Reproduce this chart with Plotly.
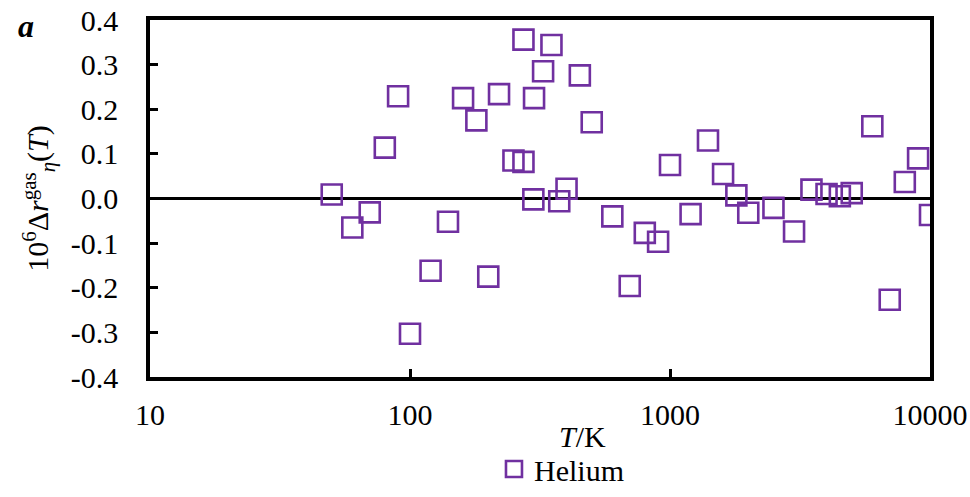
import plotly.graph_objects as go

temperature_K = [50, 60, 70, 80, 90, 100, 120, 140, 160, 180, 200, 220, 250,
                 273.15, 273.15, 298.15, 300, 325, 350, 375, 400, 450, 500, 600,
                 700, 800, 900, 1000, 1200, 1400, 1600, 1800, 2000, 2500, 3000,
                 3500, 4000, 4500, 5000, 6000, 7000, 8000, 9000, 10000]
delta_r = [0.009, -0.065, -0.031, 0.114, 0.229, -0.303, -0.162, -0.052, 0.225,
           0.175, -0.175, 0.234, 0.085, 0.082, 0.356, -0.002, 0.225, 0.285,
           0.344, -0.006, 0.022, 0.276, 0.171, -0.040, -0.196, -0.077, -0.097,
           0.075, -0.035, 0.130, 0.055, 0.007, -0.032, -0.021, -0.074, 0.020,
           0.010, 0.005, 0.012, 0.162, -0.227, 0.037, 0.090, -0.037]

y_ticks = [-0.4, -0.3, -0.2, -0.1, 0.0, 0.1, 0.2, 0.3, 0.4]
y_tick_labels = ["-0.4", "-0.3", "-0.2", "-0.1", "0.0", "0.1", "0.2", "0.3", "0.4"]
x_ticks = [10, 100, 1000, 10000]
x_tick_labels = ["10", "100", "1000", "10000"]
series_name = "Helium"

FONT = "Liberation Serif"
PURPLE = "#7030A0"
f30 = dict(family=FONT, size=30, color="black")

fig = go.Figure()
fig.add_trace(go.Scatter(
    x=temperature_K, y=delta_r, mode="markers", name=series_name,
    marker=dict(symbol="square-open", size=20, color=PURPLE,
                line=dict(width=2.6, color=PURPLE)),
))

fig.update_layout(
    width=970, height=497,
    margin=dict(l=150, r=40, t=20, b=120),
    paper_bgcolor="white", plot_bgcolor="white",
    font=f30,
    showlegend=True,
    legend=dict(orientation="h", x=0.441, xanchor="left",
                yref="container", y=0.0563, yanchor="middle",
                font=f30, itemsizing="trace",
                bgcolor="rgba(0,0,0,0)", itemwidth=30),
    xaxis=dict(type="log", range=[1, 4], tickvals=x_ticks, ticktext=x_tick_labels,
               tickfont=f30,
               ticks="inside", ticklen=8, tickwidth=2.5, tickcolor="black",
               showline=True, linewidth=3.5, linecolor="black", mirror=True,
               showgrid=False, zeroline=False, ticklabelstandoff=8, automargin=False),
    yaxis=dict(range=[-0.4, 0.4], tickvals=y_ticks, ticktext=y_tick_labels,
               tickfont=f30,
               ticks="inside", ticklen=8, tickwidth=2.5, tickcolor="black",
               showline=True, linewidth=3.5, linecolor="black", mirror=True,
               showgrid=False, zeroline=True, zerolinewidth=3, zerolinecolor="black",
               ticklabelstandoff=22, automargin=False,
               title=dict(text="10<sup>6</sup>Δ<i>r</i><sup>gas</sup><sub><i>η</i></sub>(<i>T</i>)",
                          standoff=14, font=f30)),
)

fig.add_annotation(text="<i>T</i>/K", xref="paper", yref="paper",
                   x=0.554, y=-0.168, xanchor="center", yanchor="middle",
                   showarrow=False, font=f30)

fig.add_annotation(text="<b><i>a</i></b>", xref="paper", yref="paper",
                   x=-0.172, y=1.04, xanchor="left", yanchor="top",
                   showarrow=False, font=dict(size=32, family=FONT, color="black"))

fig.write_html("out.html")
